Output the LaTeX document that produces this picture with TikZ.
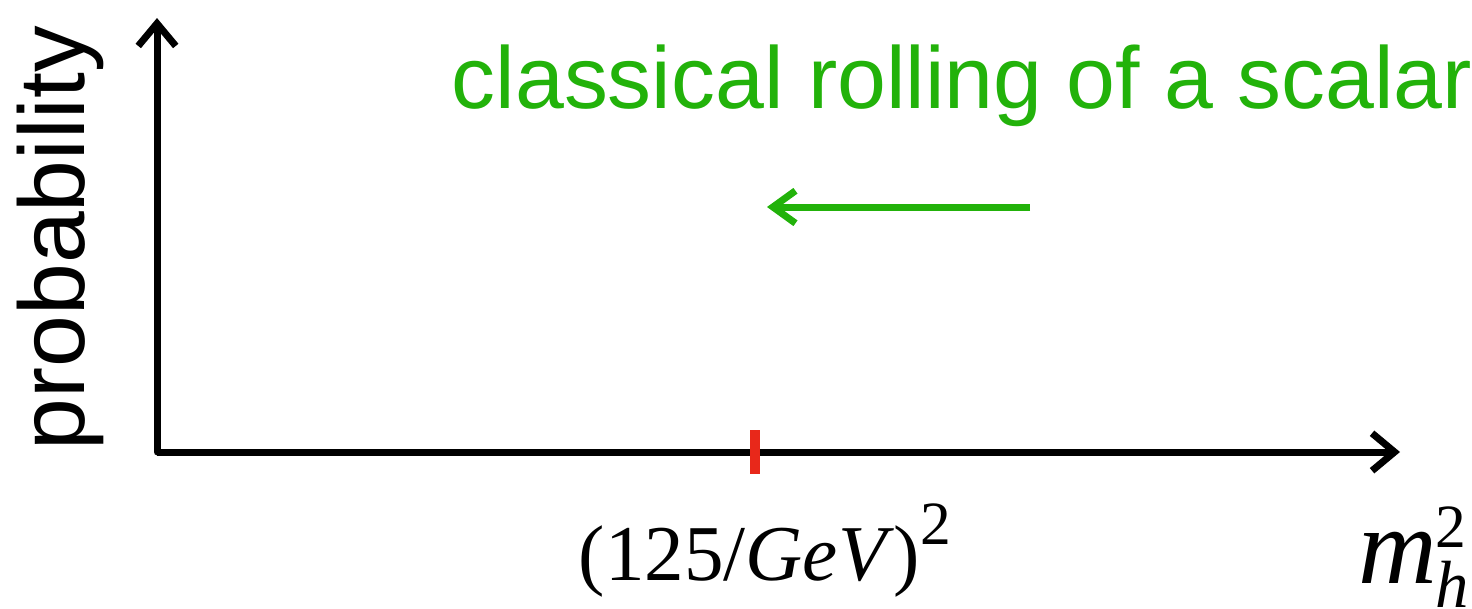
\documentclass[tikz,border=0pt]{standalone}
\usepackage{fontspec}
\setmainfont{Liberation Serif}
\setsansfont{Liberation Sans}
\usetikzlibrary{arrows.meta, positioning}
\definecolor{rollgreen}{RGB}{34,178,10}
\definecolor{tickred}{RGB}{232,40,26}
\newcommand{\supnum}[1]{\raisebox{20pt}{\fontsize{35}{40}\selectfont #1}}

\begin{document}
\begin{tikzpicture}[
    x=0.02cm, y=-0.02cm,
    axis/.style={line width=0.14cm, -{Straight Barb[length=0.45cm, width=0.75cm]}},
    flow/.style={line width=0.14cm, rollgreen, -{Straight Barb[length=0.45cm, width=0.65cm]}},
    lbl/.style={inner sep=0pt, font=\sffamily\fontsize{50}{60}\selectfont}
]
    \useasboundingbox (0,0) rectangle (1472,609);

    % axes
    \coordinate (origin) at (157,452);
    \coordinate (ytop) at (157,18);
    \coordinate (xend) at (1400,452);
    \draw[axis, line cap=round] (origin) -- (ytop);
    \draw[axis] (origin) -- (xend);

    \node[lbl, rotate=90, anchor=base, font=\sffamily\fontsize{53}{60}\selectfont] (ylab) at (84,238) {probability};

    % observed value
    \coordinate (mobs) at (755,452);
    \draw[tickred, line width=0.2cm] ([yshift=0.44cm]mobs) -- ([yshift=-0.44cm]mobs);
    \node[inner sep=0pt, anchor=base, font=\fontsize{45}{56}\selectfont] (obs) at (765,580)
        {(125/\textit{GeV})\supnum{2}};
    \node[inner sep=0pt, anchor=base west, font=\fontsize{62}{70}\selectfont] (xlab) at (1358,583)
        {\textit{m}\kern-1pt\rlap{\supnum{2}}\raisebox{-14pt}{\fontsize{38}{40}\selectfont\textit{h}}};

    % rolling
    \node[lbl, text=rollgreen, anchor=base] (roll) at (962,108) {classical rolling of a scalar};
    \coordinate (rstart) at (1030,207);
    \coordinate (rend) at (767,207);
    \draw[flow] (rstart) -- (rend);
\end{tikzpicture}
\end{document}
